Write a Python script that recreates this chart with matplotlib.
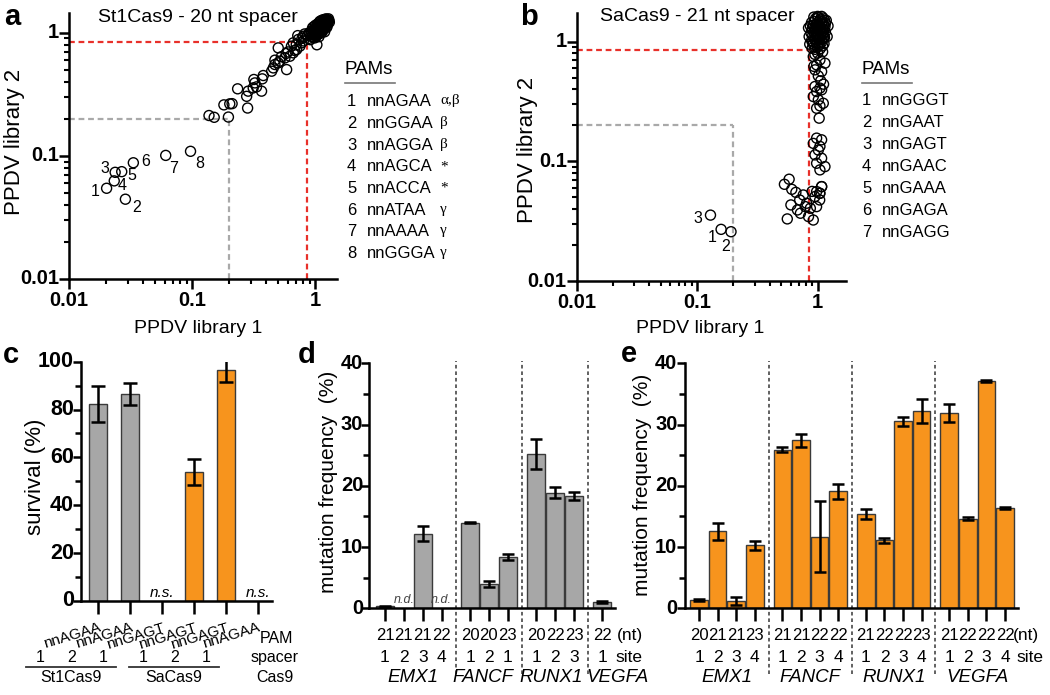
import numpy as np
import matplotlib
matplotlib.use("Agg")
import matplotlib.pyplot as plt
import matplotlib.transforms as mtrans
from matplotlib.ticker import LogLocator, NullFormatter, MultipleLocator

plt.rcParams['font.family'] = ['Liberation Sans', 'DejaVu Sans']
SERIF = ['Liberation Serif', 'DejaVu Serif']

W, H = 1050, 695

# ======================= DATA =======================
# ---- panel a : St1Cas9, 20 nt spacer ----
a_title = "St1Cas9 - 20 nt spacer"
a_x = [0.137, 0.151, 0.197, 0.181, 0.202, 0.211, 0.234, 0.282, 0.285, 0.277,
       0.313, 0.333, 0.366, 0.317, 0.323, 0.371, 0.378, 0.442, 0.456, 0.470,
       0.500, 0.516, 0.585, 0.500, 0.567, 0.622, 0.662, 0.705, 0.750, 0.774,
       0.727, 0.662, 0.798, 0.470, 0.530, 0.600, 0.640, 0.700, 0.680, 0.580,
       0.720, 0.780, 0.820, 0.800, 1.030,
       0.86, 0.88, 0.90, 0.91, 0.93, 0.94, 0.95, 0.96, 0.97, 0.98,
       0.99, 1.00, 1.01, 1.02, 1.03, 1.04, 1.05, 1.05, 1.06, 1.07,
       1.08, 1.09, 1.10, 1.10, 1.11, 1.12, 1.13, 1.14, 1.15, 1.15,
       1.16, 1.17, 1.18, 1.19, 1.20, 1.21, 1.22, 1.23, 1.24, 1.25,
       1.26, 1.27, 1.29, 1.30, 1.12, 1.08, 1.18, 1.02, 1.06, 0.95,
       1.00, 1.14, 1.20, 1.25, 0.92, 1.04, 1.16, 1.10, 0.89, 0.97,
       1.28, 1.22, 1.07, 1.13, 1.19, 1.03, 0.99, 1.09, 1.24, 1.17]
a_y = [0.213, 0.206, 0.207, 0.260, 0.265, 0.266, 0.351, 0.245, 0.336, 0.305,
       0.357, 0.364, 0.336, 0.418, 0.392, 0.423, 0.450, 0.488, 0.519, 0.553,
       0.570, 0.589, 0.503, 0.755, 0.626, 0.646, 0.688, 0.732, 0.780, 0.830,
       0.883, 0.830, 0.939, 0.600, 0.640, 0.700, 0.780, 0.800, 0.720, 0.680,
       0.950, 0.900, 0.980, 0.860, 0.800,
       0.95, 0.90, 0.98, 0.88, 1.02, 0.93, 0.97, 1.05, 0.92, 1.00,
       1.08, 0.96, 1.03, 1.10, 0.99, 1.06, 1.12, 1.01, 1.08, 1.15,
       1.04, 1.11, 1.18, 1.07, 1.13, 1.20, 1.09, 1.16, 1.22, 1.12,
       1.18, 1.24, 1.14, 1.20, 1.26, 1.16, 1.22, 1.19, 1.25, 1.21,
       1.27, 1.23, 1.26, 1.22, 1.26, 1.22, 1.08, 0.94, 0.98, 1.10,
       1.15, 1.02, 1.10, 1.15, 0.96, 1.18, 1.28, 0.99, 1.00, 1.12,
       1.30, 1.30, 0.93, 1.05, 1.02, 1.13, 0.91, 1.24, 1.11, 1.09]
a_lab_x = [0.0202, 0.0287, 0.0237, 0.0233, 0.0268, 0.0333, 0.061, 0.097]
a_lab_y = [0.0546, 0.0445, 0.0736, 0.0627, 0.0745, 0.088, 0.101, 0.109]
a_pams = ["nnAGAA", "nnGGAA", "nnAGGA", "nnAGCA", "nnACCA", "nnATAA", "nnAAAA", "nnGGGA"]
a_notes = ["\u03b1,\u03b2", "\u03b2", "\u03b2", "*", "*", "\u03b3", "\u03b3", "\u03b3"]

# ---- panel b : SaCas9, 21 nt spacer ----
b_title = "SaCas9 - 21 nt spacer"
b_x = [0.921, 1.045, 1.150, 0.981, 0.951, 1.079, 1.013, 0.951, 1.045, 0.981,
       1.079, 0.921, 1.013, 1.114, 1.045, 0.981, 1.030, 0.981, 1.079, 0.921,
       1.045, 1.013, 0.951, 1.079, 0.981, 1.150, 1.045, 1.079, 0.981, 1.045,
       1.00, 0.95, 1.10, 0.93, 1.06, 1.12,
       0.53, 0.58, 0.61, 0.60, 0.68, 0.56, 0.71, 0.76, 0.81, 0.84,
       0.92, 0.87, 0.98, 0.95, 1.04, 1.08, 1.04, 0.72, 0.79, 0.66, 0.90,
       0.90, 0.95, 1.00, 1.05, 1.10, 0.92, 0.98, 1.03, 1.08, 1.13,
       0.89, 0.94, 0.99, 1.04, 1.09, 1.14, 0.91, 0.96, 1.01, 1.06,
       1.11, 0.88, 0.93, 0.98, 1.03, 1.08, 1.13, 0.90, 0.95, 1.00,
       1.05, 1.10, 1.15, 0.92, 0.97, 1.02, 1.07, 1.12, 0.89, 0.94,
       0.99, 1.04, 1.09, 1.14, 0.96, 1.01, 1.06, 1.11, 1.00, 0.93,
       1.08, 0.97, 1.02, 1.07, 1.12, 0.91, 1.16, 1.16, 0.87, 0.85,
       0.84, 1.20, 1.22, 1.18, 0.86]
b_y = [0.749, 0.703, 0.659, 0.638, 0.580, 0.561, 0.516, 0.421, 0.408, 0.382,
       0.395, 0.347, 0.326, 0.305, 0.290, 0.277, 0.229, 0.156, 0.151, 0.141,
       0.133, 0.124, 0.113, 0.106, 0.0962, 0.0902, 0.0847, 0.0614, 0.0558, 0.054,
       0.80, 0.78, 0.82, 0.62, 0.47, 0.44,
       0.0642, 0.0708, 0.0583, 0.0432, 0.0392, 0.0330, 0.0475, 0.0523, 0.0446, 0.0345,
       0.0323, 0.0405, 0.0418, 0.0507, 0.0540, 0.0614, 0.0475, 0.0368, 0.0418, 0.0550, 0.0560,
       0.88, 0.86, 0.90, 0.87, 0.92, 0.95, 0.97, 0.94, 0.99, 0.96,
       1.02, 1.05, 1.03, 1.07, 1.04, 1.08, 1.12, 1.10, 1.14, 1.11,
       1.15, 1.18, 1.20, 1.17, 1.22, 1.19, 1.24, 1.27, 1.30, 1.26,
       1.31, 1.28, 1.33, 1.36, 1.39, 1.35, 1.41, 1.38, 1.44, 1.47,
       1.43, 1.49, 1.46, 1.51, 1.55, 1.58, 1.54, 1.57, 1.62, 1.60,
       1.62, 1.23, 1.05, 1.25, 1.06, 0.99, 1.20, 1.42, 1.35, 1.10,
       1.30, 1.10, 1.35, 1.50, 0.95]
b_lab_x = [0.158, 0.191, 0.129]
b_lab_y = [0.027, 0.0258, 0.0355]
b_pams = ["nnGGGT", "nnGAAT", "nnGAGT", "nnGAAC", "nnGAAA", "nnGAGA", "nnGAGG"]
thr_hi = 0.85
thr_lo = 0.2
log_ticks = [0.01, 0.1, 1]
log_ticklabels = ["0.01", "0.1", "1"]

# ---- panel c : survival ----
c_pam = ["nnAGAA", "nnAGAA", "nnGAGT", "nnGAGT", "nnGAGT", "nnAGAA"]
c_spacer = ["1", "2", "1", "1", "2", "1"]
c_cas9 = ["St1Cas9", "SaCas9"]
c_group = [0, 0, 0, 1, 1, 1]
c_surv = [82.2, 86.4, np.nan, 53.9, 96.5, np.nan]
c_err = [7.5, 4.6, np.nan, 5.3, 5.0, np.nan]

# ---- panel d : St1Cas9 mutation frequency ----
genes = ["EMX1", "FANCF", "RUNX1", "VEGFA"]
d_gene = [0, 0, 0, 0, 1, 1, 1, 2, 2, 2, 3]
d_nt = [21, 21, 21, 22, 20, 20, 23, 20, 22, 23, 22]
d_site = [1, 2, 3, 4, 1, 2, 1, 1, 2, 3, 1]
d_val = [0.35, np.nan, 12.2, np.nan, 14.0, 4.0, 8.4, 25.2, 18.9, 18.4, 1.0]
d_err = [0.1, np.nan, 1.25, np.nan, 0.12, 0.45, 0.5, 2.4, 0.9, 0.65, 0.2]

# ---- panel e : SaCas9 mutation frequency ----
e_gene = [0, 0, 0, 0, 1, 1, 1, 1, 2, 2, 2, 2, 3, 3, 3, 3]
e_nt = [20, 21, 21, 23, 21, 21, 22, 22, 21, 22, 22, 23, 21, 22, 22, 22]
e_site = [1, 2, 3, 4, 1, 2, 3, 4, 1, 2, 3, 4, 1, 2, 3, 4]
e_val = [1.4, 12.6, 1.2, 10.3, 25.9, 27.4, 11.7, 19.1, 15.4, 11.1, 30.5, 32.2, 31.9, 14.6, 37.1, 16.4]
e_err = [0.2, 1.4, 0.65, 0.7, 0.45, 1.0, 5.8, 1.25, 0.8, 0.45, 0.7, 2.0, 1.45, 0.25, 0.15, 0.2]

# ======================= STYLE =======================
GRAY = '#a7a7a7'
ORANGE = '#f7941d'
EDGE = '#3a3a3a'
RED = '#e8302a'
LGRAY = '#a9a9a9'
SPW = 1.8

fig = plt.figure(figsize=(W / 100, H / 100), dpi=100)


def rect(l, t, r, b):
    return [l / W, 1 - b / H, (r - l) / W, (b - t) / H]


def ftext(x, y, s, **kw):
    return fig.text(x / W, 1 - y / H, s, **kw)


def clean(ax):
    for s in ['top', 'right']:
        ax.spines[s].set_visible(False)
    for s in ['left', 'bottom']:
        ax.spines[s].set_linewidth(SPW)


def ytick_text(ax, vals, texts, dx, fs):
    tr = mtrans.offset_copy(ax.get_yaxis_transform(), fig=fig, x=-dx, y=0, units='dots')
    for v, s in zip(vals, texts):
        ax.text(0, v, s, transform=tr, ha='right', va='center', fontsize=fs,
                fontweight='bold', clip_on=False)


def xtick_text(ax, vals, texts, dy, fs):
    tr = mtrans.offset_copy(ax.get_xaxis_transform(), fig=fig, x=0, y=-dy, units='dots')
    for v, s in zip(vals, texts):
        ax.text(v, 0, s, transform=tr, ha='center', va='top', fontsize=fs,
                fontweight='bold', clip_on=False)


def log_panel(rc, xmax, ymax):
    ax = fig.add_axes(rc)
    ax.set_xscale('log')
    ax.set_yscale('log')
    ax.set_xlim(0.01, xmax)
    ax.set_ylim(0.01, ymax)
    clean(ax)
    ax.set_xticks(log_ticks, labels=[''] * len(log_ticks))
    ax.set_yticks(log_ticks, labels=[''] * len(log_ticks))
    for axis in (ax.xaxis, ax.yaxis):
        axis.set_minor_locator(LogLocator(base=10, subs=np.arange(2, 10)))
        axis.set_minor_formatter(NullFormatter())
    ax.tick_params(which='major', length=7, width=SPW, pad=2)
    ax.tick_params(which='minor', length=3.6, width=1.5)
    ytick_text(ax, log_ticks, log_ticklabels, 10, 14.5)
    xtick_text(ax, log_ticks, log_ticklabels, 12, 14.5)
    dash = (0, (2.6, 1.7))
    ax.plot([0.01, thr_hi], [thr_hi, thr_hi], ls=dash, color=RED, lw=1.6, zorder=1)
    ax.plot([thr_hi, thr_hi], [0.01, thr_hi], ls=dash, color=RED, lw=1.6, zorder=1)
    ax.plot([0.01, thr_lo], [thr_lo, thr_lo], ls=dash, color=LGRAY, lw=1.6, zorder=1)
    ax.plot([thr_lo, thr_lo], [0.01, thr_lo], ls=dash, color=LGRAY, lw=1.6, zorder=1)
    return ax


# ---------------- panel a ----------------
axa = log_panel(rect(69, 13, 337, 279), 1.5, 1.45)
axa.scatter(a_x + a_lab_x, a_y + a_lab_y, s=52, facecolors='none',
            edgecolors='black', linewidths=1.0, zorder=3, clip_on=False)
a_off = [(-11, -3), (11, -8), (-10, 4), (8, -5), (10, -4), (12, 1), (8, -13), (9, -12)]
for i, (x, y) in enumerate(zip(a_lab_x, a_lab_y)):
    axa.annotate(str(i + 1), (x, y), xytext=a_off[i], textcoords='offset pixels',
                 ha='center', va='center', fontsize=11.5)
ftext(198, 22, a_title, ha='center', va='baseline', fontsize=14)
ftext(198, 333, "PPDV library 1", ha='center', va='baseline', fontsize=14)
ftext(15, 142, "PPDV library 2", ha='center', va='center', rotation=90, fontsize=16)
ftext(4, 25, "a", fontsize=21, fontweight='bold', va='baseline')
ftext(345, 70, "PAMs", fontsize=13.5, va='center')
fig.add_artist(plt.Line2D([345 / W, 395 / W], [1 - 82.5 / H, 1 - 82.5 / H], color='#777777', lw=1.2))
for i, (p, n) in enumerate(zip(a_pams, a_notes)):
    yy = 101.7 + 21.7 * i
    ftext(347, yy, str(i + 1), fontsize=12, va='center')
    ftext(366.5, yy, p, fontsize=12, va='center')
    ftext(440, yy - (1 if n != "*" else 0), n, fontsize=11, va='center', family=SERIF)

# ---------------- panel b ----------------
axb = log_panel(rect(576.7, 13.3, 846, 281), 1.72, 1.72)
axb.scatter(b_x + b_lab_x, b_y + b_lab_y, s=52, facecolors='none',
            edgecolors='black', linewidths=1.0, zorder=3, clip_on=False)
b_off = [(-9, -8), (-5, -15), (-13, -3)]
for i, (x, y) in enumerate(zip(b_lab_x, b_lab_y)):
    axb.annotate(str(i + 1), (x, y), xytext=b_off[i], textcoords='offset pixels',
                 ha='center', va='center', fontsize=11.5)
ftext(697, 21, b_title, ha='center', va='baseline', fontsize=14)
ftext(700, 333, "PPDV library 1", ha='center', va='baseline', fontsize=14)
ftext(527, 150, "PPDV library 2", ha='center', va='center', rotation=90, fontsize=16)
ftext(520, 25, "b", fontsize=21, fontweight='bold', va='baseline')
ftext(861.7, 70, "PAMs", fontsize=13.5, va='center')
fig.add_artist(plt.Line2D([861.7 / W, 912 / W], [1 - 82.5 / H, 1 - 82.5 / H], color='#777777', lw=1.2))
for i, p in enumerate(b_pams):
    yy = 100.7 + 22 * i
    ftext(862, yy, str(i + 1), fontsize=12, va='center')
    ftext(881.7, yy, p, fontsize=12, va='center')


def bar_axis(ax, yticks, dx, fs):
    clean(ax)
    ax.set_yticks(yticks, labels=[''] * len(yticks))
    ax.tick_params(axis='y', which='major', length=5.5, width=SPW, pad=1)
    ax.tick_params(axis='y', which='minor', length=4, width=SPW)
    ax.tick_params(axis='x', which='major', length=9, width=SPW)
    ytick_text(ax, yticks, [str(v) for v in yticks], dx, fs)


# ---------------- panel c ----------------
axc = fig.add_axes(rect(81, 361.7, 271.7, 601))
xc = np.arange(len(c_pam))
cols = [GRAY, ORANGE]
for i in xc:
    if np.isnan(c_surv[i]):
        axc.text(i, 0.6, "n.s.", style='italic', ha='center', va='bottom', fontsize=11)
    else:
        axc.bar(i, c_surv[i], width=0.565, color=cols[c_group[i]], edgecolor=EDGE, linewidth=1.0, zorder=2)
        axc.errorbar(i, c_surv[i], yerr=c_err[i], color='black', capsize=5, elinewidth=1.8,
                     capthick=1.8, zorder=3)
axc.set_xlim(-0.54, 5.44)
axc.set_ylim(0, 100)
axc.yaxis.set_minor_locator(MultipleLocator(10))
axc.set_xticks(xc, labels=c_pam, rotation=17, ha='right', rotation_mode='anchor', fontsize=11)
bar_axis(axc, [0, 20, 40, 60, 80, 100], 7, 15.5)
axc.tick_params(axis='x', pad=5)
trc = axc.get_xaxis_transform()
sp_off = [-1.83, -1.6]
for g, name in enumerate(c_cas9):
    idx = [i for i in xc if c_group[i] == g]
    xs = [i + sp_off[g] for i in idx]
    for i, x in zip(idx, xs):
        axc.text(x, -0.238, c_spacer[i], transform=trc, ha='center', va='center', fontsize=11.5)
    axc.plot([xs[0] - 0.42, xs[-1] + 0.38], [-0.2745, -0.2745], transform=trc, color='#333333',
             lw=1.3, clip_on=False)
    axc.text((xs[0] - 0.42 + xs[-1] + 0.38) / 2, -0.318, name, transform=trc, ha='center',
             va='center', fontsize=11.5)
axc.text(5.6, -0.155, "PAM", transform=trc, ha='center', va='center', fontsize=11.5)
axc.text(5.54, -0.238, "spacer", transform=trc, ha='center', va='center', fontsize=11.5)
axc.text(5.54, -0.318, "Cas9", transform=trc, ha='center', va='center', fontsize=11.5)
ftext(36, 477, "survival (%)", rotation=90, ha='center', va='center', fontsize=16)
ftext(3, 363, "c", fontsize=21, fontweight='bold', va='baseline')


# ---------------- panels d, e ----------------
def mut_panel(rc, xlim, gene_of, nt, site, val, err, color, gene_x, nt_x, site_x, dx):
    ax = fig.add_axes(rc)
    pos = np.arange(len(val)) + 0.5 * np.array(gene_of)
    for i, p in enumerate(pos):
        if np.isnan(val[i]):
            ax.text(p, 0.35, "n.d.", style='italic', ha='center', va='bottom', fontsize=9,
                    color='#444444')
        else:
            ax.bar(p, val[i], width=0.96, color=color, edgecolor=EDGE, linewidth=1.0, zorder=2)
            ax.errorbar(p, val[i], yerr=err[i], color='black', capsize=4.5, elinewidth=1.8,
                        capthick=1.8, zorder=3)
    ax.set_xlim(*xlim)
    ax.set_ylim(0, 40)
    ax.yaxis.set_minor_locator(MultipleLocator(5))
    ax.set_xticks(pos, labels=[''] * len(pos))
    bar_axis(ax, [0, 10, 20, 30, 40], dx, 14.5)
    tr = ax.get_xaxis_transform()
    for i, p in enumerate(pos):
        ax.text(p, -0.113, str(nt[i]), transform=tr, ha='center', va='center', fontsize=12)
        ax.text(p, -0.199, str(site[i]), transform=tr, ha='center', va='center', fontsize=12.5)
    for g in range(len(genes) - 1):
        last = max(p for p, gg in zip(pos, gene_of) if gg == g)
        first = min(p for p, gg in zip(pos, gene_of) if gg == g + 1)
        ax.plot([(last + first) / 2] * 2, [-0.27, 1.008], transform=tr, color='#555555',
                lw=1.3, ls=(0, (2.0, 1.6)), clip_on=False, zorder=1)
    for g, name in enumerate(genes):
        ax.text(gene_x[g], -0.284, name, transform=tr, ha='center', va='center', fontsize=13.5,
                style='italic')
    ax.text(nt_x, -0.113, "(nt)", transform=tr, ha='left', va='center', fontsize=12.5)
    ax.text(site_x, -0.199, "site", transform=tr, ha='left', va='center', fontsize=12.5)
    return ax


axd = mut_panel(rect(369.3, 363.3, 615, 608.3), (-0.83, 12.17), d_gene, d_nt, d_site, d_val, d_err,
                GRAY, [1.48, 5.2, 8.8, 12.3], 12.26, 12.17, 6)
ftext(329, 482, "mutation frequency  (%)", rotation=90, ha='center', va='center', fontsize=15)
ftext(298, 363, "d", fontsize=21, fontweight='bold', va='baseline')

axe = mut_panel(rect(685.5, 363.3, 1018, 608.3), (-0.73, 17.2), e_gene, e_nt, e_site, e_val, e_err,
                ORANGE, [1.5, 6.0, 10.5, 15.0], 16.93, 17.14, 8)
ftext(643, 485, "mutation frequency  (%)", rotation=90, ha='center', va='center', fontsize=15)
ftext(621, 362, "e", fontsize=21, fontweight='bold', va='baseline')

fig.savefig("out.png", dpi=100)
